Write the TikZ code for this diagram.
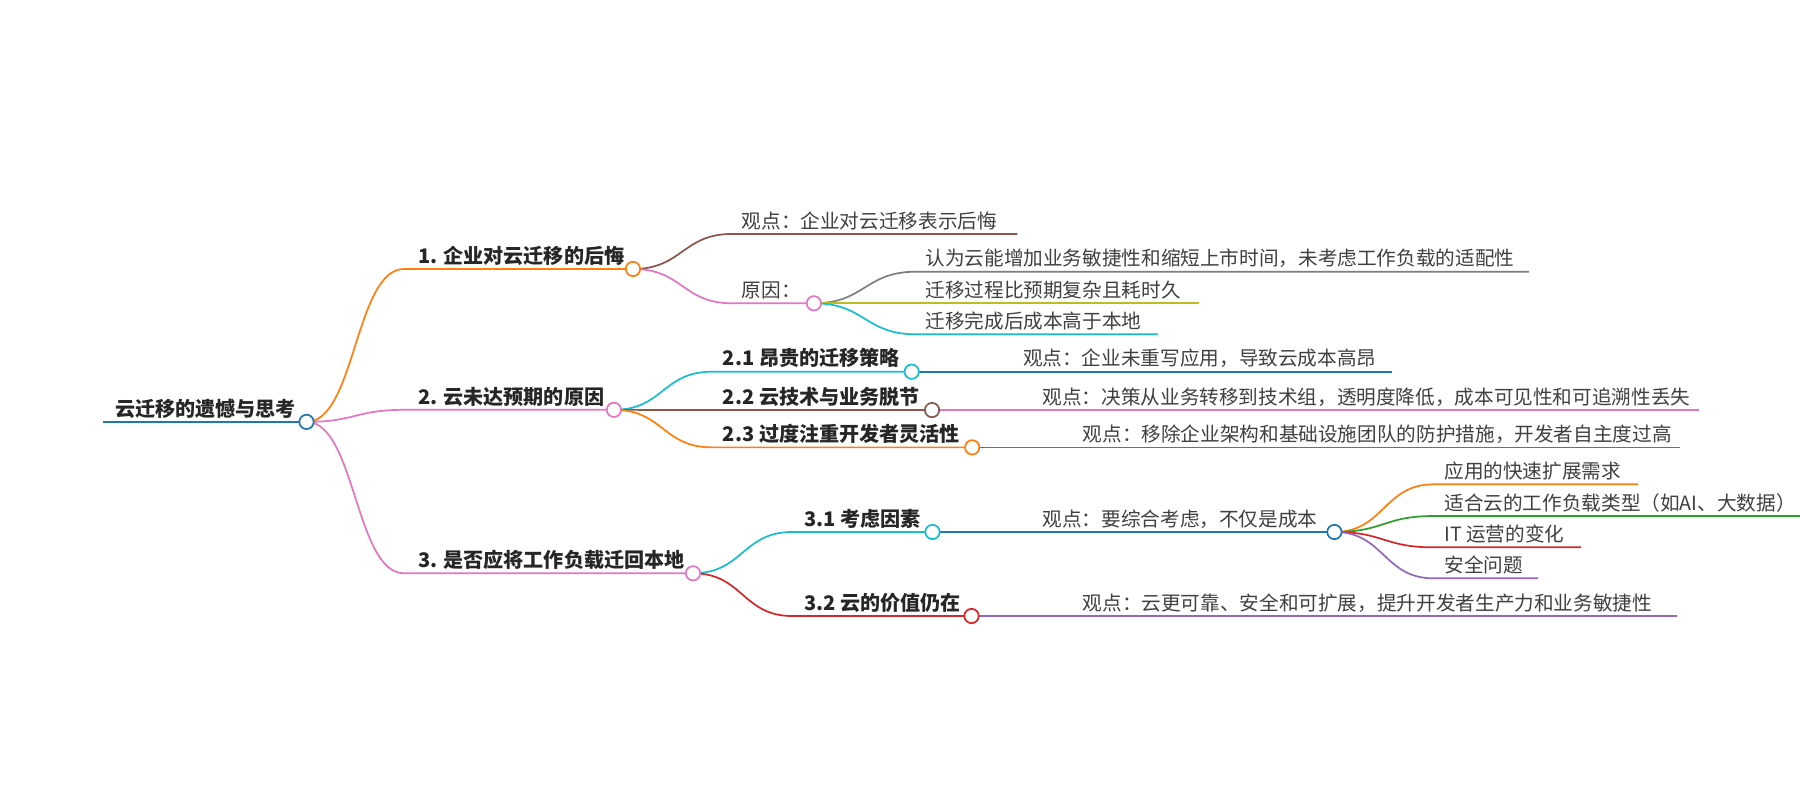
\documentclass[tikz,border=0pt]{standalone}
\usepackage{fontspec}
\newfontfamily\cjk{Noto Sans CJK SC}
\usetikzlibrary{calc,backgrounds}

\definecolor{mmblue}{HTML}{1F77B4}
\definecolor{mmorange}{HTML}{FF7F0E}
\definecolor{mmpink}{HTML}{E377C2}
\definecolor{mmbrown}{HTML}{8C564B}
\definecolor{mmgray}{HTML}{7F7F7F}
\definecolor{mmolive}{HTML}{BCBD22}
\definecolor{mmcyan}{HTML}{17BECF}
\definecolor{mmgreen}{HTML}{2CA02C}
\definecolor{mmred}{HTML}{D62728}
\definecolor{mmpurple}{HTML}{9467BD}

\tikzset{
  txt/.style={anchor=base west, inner sep=0pt, text=black!75,
    font=\cjk\fontsize{17.1}{17.1}\selectfont},
  topic/.style={txt, text=black!85, font=\cjk\bfseries\fontsize{17.5}{17.5}\selectfont},
  knot/.style={circle, draw=#1, fill=white, line width=1.5pt,
    minimum size=12.5pt, inner sep=0pt},
  branch/.style={draw=#1, line width=1.5pt},
  curvy/.style={to path={let \p1=(\tikztostart), \p2=(\tikztotarget) in
    .. controls ({(\x1+\x2)/2},\y1) and ({(\x1+\x2)/2},\y2) .. (\tikztotarget)}},
}

\begin{document}
\begin{tikzpicture}[x=1pt,y=-1pt]
  \useasboundingbox (0,0) rectangle (1568,697);

  % Root
  \coordinate (roots) at (90,367.5);
  \node[knot=mmblue] (root) at (267,367.5) {};
  \node[topic] (roott) at (100,362.5) {云迁移的遗憾与思考};

  % Branch 1
  \coordinate (n1s) at (352,234.3);
  \node[knot=mmorange] (n1) at (551.4,234.3) {};
  \node[topic] (n1t) at (364,229.3) {1. 企业对云迁移的后悔};
  \coordinate (n1as) at (637.6,203.8);
  \coordinate (n1ae) at (886.2,203.8);
  \node[txt] (n1at) at (646,198.8) {观点：企业对云迁移表示后悔};
  \coordinate (n1bs) at (637.6,264.2);
  \node[knot=mmpink] (n1b) at (709,264.2) {};
  \node[txt] (n1bt) at (646,259.2) {原因：};
  \coordinate (n1b1s) at (797.7,236.7);
  \coordinate (n1b1e) at (1332,236.7);
  \node[txt] (n1b1t) at (806,231.7) {认为云能增加业务敏捷性和缩短上市时间，未考虑工作负载的适配性};
  \coordinate (n1b2s) at (797.7,264.2);
  \coordinate (n1b2e) at (1044.3,264.2);
  \node[txt] (n1b2t) at (806,259.2) {迁移过程比预期复杂且耗时久};
  \coordinate (n1b3s) at (797.7,291.2);
  \coordinate (n1b3e) at (1008.7,291.2);
  \node[txt] (n1b3t) at (806,286.2) {迁移完成后成本高于本地};

  % Branch 2
  \coordinate (n2s) at (352,357);
  \node[knot=mmpink] (n2) at (534.8,357) {};
  \node[topic] (n2t) at (364,352) {2. 云未达预期的原因};
  \coordinate (n2as) at (620,323.8);
  \node[knot=mmcyan] (n2a) at (794.2,323.8) {};
  \node[topic] (n2at) at (629.5,318.8) {2.1 昂贵的迁移策略};
  \coordinate (n2a1s) at (882,323.8);
  \coordinate (n2a1e) at (1213,323.8);
  \node[txt] (n2a1t) at (891,318.8) {观点：企业未重写应用，导致云成本高昂};
  \coordinate (n2bs) at (620,357.2);
  \node[knot=mmbrown] (n2b) at (811.9,357.2) {};
  \node[topic] (n2bt) at (629.5,352.2) {2.2 云技术与业务脱节};
  \coordinate (n2b1s) at (900,357.2);
  \coordinate (n2b1e) at (1479.6,357.2);
  \node[txt] (n2b1t) at (908,352.2) {观点：决策从业务转移到技术组，透明度降低，成本可见性和可追溯性丢失};
  \coordinate (n2cs) at (620,389.7);
  \node[knot=mmorange] (n2c) at (846.9,389.7) {};
  \node[topic] (n2ct) at (629.5,384.7) {2.3 过度注重开发者灵活性};
  \coordinate (n2c1s) at (935,389.7);
  \coordinate (n2c1e) at (1463.4,389.7);
  \node[txt] (n2c1t) at (943,384.7) {观点：移除企业架构和基础设施团队的防护措施，开发者自主度过高};

  % Branch 3
  \coordinate (n3s) at (352,499.4);
  \node[knot=mmpink] (n3) at (603.7,499.4) {};
  \node[topic] (n3t) at (364,494.4) {3. 是否应将工作负载迁回本地};
  \coordinate (n3as) at (690,463.4);
  \node[knot=mmcyan] (n3a) at (812.3,463.4) {};
  \node[topic] (n3at) at (700.3,458.4) {3.1 考虑因素};
  \coordinate (n3a1s) at (900,463.4);
  \node[knot=mmblue] (n3a1) at (1162.4,463.4) {};
  \node[txt] (n3a1t) at (908,458.4) {观点：要综合考虑，不仅是成本};
  \coordinate (n3a1as) at (1248.6,421.9);
  \coordinate (n3a1ae) at (1427,421.9);
  \node[txt] (n3a1at) at (1258,416.9) {应用的快速扩展需求};
  \coordinate (n3a1bs) at (1248.6,449.5);
  \coordinate (n3a1be) at (1570,449.5);
  \node[txt] (n3a1bt) at (1258,444.5) {适合云的工作负载类型（如AI、大数据）};
  \coordinate (n3a1cs) at (1248.6,476.8);
  \coordinate (n3a1ce) at (1377,476.8);
  \node[txt] (n3a1ct) at (1258,471.8) {IT 运营的变化};
  \coordinate (n3a1ds) at (1248.6,503.8);
  \coordinate (n3a1de) at (1339.7,503.8);
  \node[txt] (n3a1dt) at (1258,498.8) {安全问题};
  \coordinate (n3bs) at (690,536.6);
  \node[knot=mmred] (n3b) at (846.3,536.6) {};
  \node[topic] (n3bt) at (700.3,531.6) {3.2 云的价值仍在};
  \coordinate (n3b1s) at (935,536.6);
  \coordinate (n3b1e) at (1460.4,536.6);
  \node[txt] (n3b1t) at (943,531.6) {观点：云更可靠、安全和可扩展，提升开发者生产力和业务敏捷性};

  % Links
  \begin{scope}[on background layer]
    \fill[white] (0,0) rectangle (1568,697);
    \draw[branch=mmblue, line width=2pt] (roots) -- (root.center);
    \draw[branch=mmorange] (root.center) to[curvy] (n1s) -- (n1.center);
    \draw[branch=mmbrown] (n1.center) to[curvy] (n1as) -- (n1ae);
    \draw[branch=mmpink] (n1.center) to[curvy] (n1bs) -- (n1b.center);
    \draw[branch=mmgray] (n1b.center) to[curvy] (n1b1s) -- (n1b1e);
    \draw[branch=mmolive] (n1b.center) to[curvy] (n1b2s) -- (n1b2e);
    \draw[branch=mmcyan] (n1b.center) to[curvy] (n1b3s) -- (n1b3e);
    \draw[branch=mmpink] (root.center) to[curvy] (n2s) -- (n2.center);
    \draw[branch=mmcyan] (n2.center) to[curvy] (n2as) -- (n2a.center);
    \draw[branch=mmblue] (n2a.center) to[curvy] (n2a1s) -- (n2a1e);
    \draw[branch=mmbrown] (n2.center) to[curvy] (n2bs) -- (n2b.center);
    \draw[branch=mmpink] (n2b.center) to[curvy] (n2b1s) -- (n2b1e);
    \draw[branch=mmorange] (n2.center) to[curvy] (n2cs) -- (n2c.center);
    \draw[branch=mmgreen] (n2c.center) to[curvy] (n2c1s) -- (n2c1e);
    \draw[branch=mmpink] (root.center) to[curvy] (n3s) -- (n3.center);
    \draw[branch=mmcyan] (n3.center) to[curvy] (n3as) -- (n3a.center);
    \draw[branch=mmblue] (n3a.center) to[curvy] (n3a1s) -- (n3a1.center);
    \draw[branch=mmorange] (n3a1.center) to[curvy] (n3a1as) -- (n3a1ae);
    \draw[branch=mmgreen] (n3a1.center) to[curvy] (n3a1bs) -- (n3a1be);
    \draw[branch=mmred] (n3a1.center) to[curvy] (n3a1cs) -- (n3a1ce);
    \draw[branch=mmpurple] (n3a1.center) to[curvy] (n3a1ds) -- (n3a1de);
    \draw[branch=mmred] (n3.center) to[curvy] (n3bs) -- (n3b.center);
    \draw[branch=mmpurple] (n3b.center) to[curvy] (n3b1s) -- (n3b1e);
  \end{scope}
\end{tikzpicture}
\end{document}
